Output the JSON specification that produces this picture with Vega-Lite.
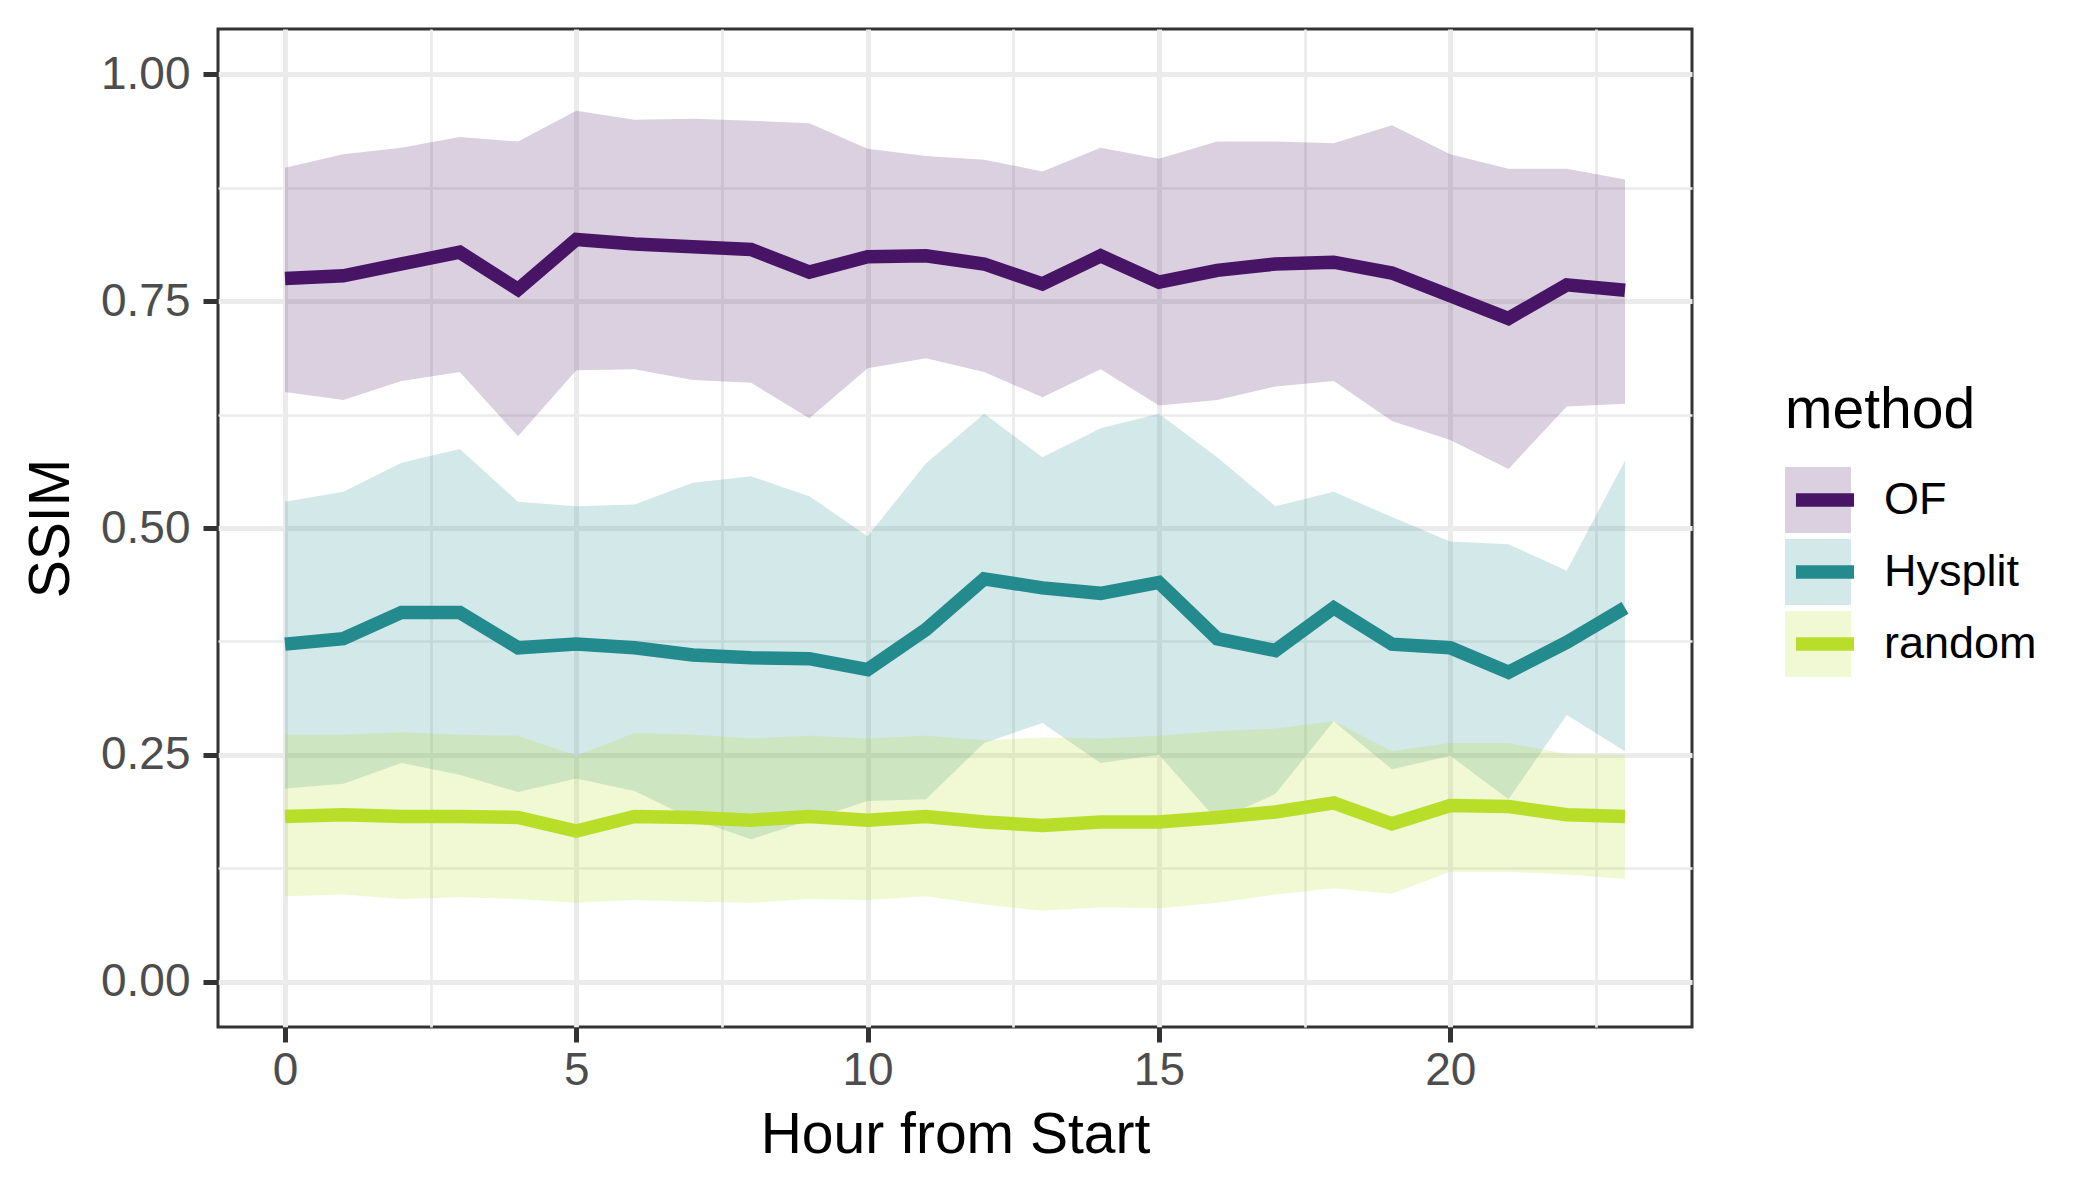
{
  "$schema": "https://vega.github.io/schema/vega-lite/v6.json",
  "width": 1474,
  "height": 998,
  "autosize": {"type": "none"},
  "padding": {"left": 218, "top": 29, "right": 408, "bottom": 173},
  "background": "white",
  "config": {
    "font": "Liberation Sans",
    "view": {"stroke": "#333333", "strokeWidth": 3},
    "axis": {
      "domain": false,
      "gridColor": "#EBEBEB",
      "tickColor": "#333333",
      "tickWidth": 5,
      "tickSize": 15,
      "labelColor": "#4D4D4D",
      "labelFontSize": 46,
      "labelFont": "Liberation Sans",
      "titleFont": "Liberation Sans",
      "titleFontSize": 57,
      "titleFontWeight": "normal",
      "titleColor": "black",
      "labelOverlap": false,
      "labelFlush": false
    }
  },
  "data": {
    "values": [
      {"hour": 0, "method": "OF", "mean": 0.775, "lo": 0.650, "hi": 0.897},
      {"hour": 1, "method": "OF", "mean": 0.778, "lo": 0.641, "hi": 0.912},
      {"hour": 2, "method": "OF", "mean": 0.791, "lo": 0.662, "hi": 0.919},
      {"hour": 3, "method": "OF", "mean": 0.804, "lo": 0.672, "hi": 0.931},
      {"hour": 4, "method": "OF", "mean": 0.763, "lo": 0.601, "hi": 0.926},
      {"hour": 5, "method": "OF", "mean": 0.818, "lo": 0.674, "hi": 0.960},
      {"hour": 6, "method": "OF", "mean": 0.813, "lo": 0.675, "hi": 0.950},
      {"hour": 7, "method": "OF", "mean": 0.810, "lo": 0.663, "hi": 0.951},
      {"hour": 8, "method": "OF", "mean": 0.807, "lo": 0.660, "hi": 0.949},
      {"hour": 9, "method": "OF", "mean": 0.782, "lo": 0.621, "hi": 0.946},
      {"hour": 10, "method": "OF", "mean": 0.799, "lo": 0.676, "hi": 0.918},
      {"hour": 11, "method": "OF", "mean": 0.800, "lo": 0.687, "hi": 0.910},
      {"hour": 12, "method": "OF", "mean": 0.791, "lo": 0.672, "hi": 0.906},
      {"hour": 13, "method": "OF", "mean": 0.769, "lo": 0.644, "hi": 0.893},
      {"hour": 14, "method": "OF", "mean": 0.800, "lo": 0.675, "hi": 0.919},
      {"hour": 15, "method": "OF", "mean": 0.771, "lo": 0.635, "hi": 0.907},
      {"hour": 16, "method": "OF", "mean": 0.784, "lo": 0.641, "hi": 0.926},
      {"hour": 17, "method": "OF", "mean": 0.791, "lo": 0.656, "hi": 0.926},
      {"hour": 18, "method": "OF", "mean": 0.793, "lo": 0.662, "hi": 0.924},
      {"hour": 19, "method": "OF", "mean": 0.781, "lo": 0.618, "hi": 0.944},
      {"hour": 20, "method": "OF", "mean": 0.756, "lo": 0.597, "hi": 0.912},
      {"hour": 21, "method": "OF", "mean": 0.731, "lo": 0.565, "hi": 0.896},
      {"hour": 22, "method": "OF", "mean": 0.768, "lo": 0.634, "hi": 0.896},
      {"hour": 23, "method": "OF", "mean": 0.762, "lo": 0.637, "hi": 0.884},
      {"hour": 0, "method": "Hysplit", "mean": 0.372, "lo": 0.213, "hi": 0.529},
      {"hour": 1, "method": "Hysplit", "mean": 0.378, "lo": 0.218, "hi": 0.540},
      {"hour": 2, "method": "Hysplit", "mean": 0.407, "lo": 0.241, "hi": 0.572},
      {"hour": 3, "method": "Hysplit", "mean": 0.407, "lo": 0.228, "hi": 0.587},
      {"hour": 4, "method": "Hysplit", "mean": 0.368, "lo": 0.209, "hi": 0.529},
      {"hour": 5, "method": "Hysplit", "mean": 0.372, "lo": 0.224, "hi": 0.524},
      {"hour": 6, "method": "Hysplit", "mean": 0.368, "lo": 0.210, "hi": 0.526},
      {"hour": 7, "method": "Hysplit", "mean": 0.360, "lo": 0.179, "hi": 0.550},
      {"hour": 8, "method": "Hysplit", "mean": 0.357, "lo": 0.157, "hi": 0.557},
      {"hour": 9, "method": "Hysplit", "mean": 0.356, "lo": 0.178, "hi": 0.535},
      {"hour": 10, "method": "Hysplit", "mean": 0.344, "lo": 0.199, "hi": 0.491},
      {"hour": 11, "method": "Hysplit", "mean": 0.388, "lo": 0.201, "hi": 0.571},
      {"hour": 12, "method": "Hysplit", "mean": 0.444, "lo": 0.263, "hi": 0.626},
      {"hour": 13, "method": "Hysplit", "mean": 0.434, "lo": 0.285, "hi": 0.578},
      {"hour": 14, "method": "Hysplit", "mean": 0.428, "lo": 0.241, "hi": 0.610},
      {"hour": 15, "method": "Hysplit", "mean": 0.440, "lo": 0.250, "hi": 0.626},
      {"hour": 16, "method": "Hysplit", "mean": 0.378, "lo": 0.178, "hi": 0.578},
      {"hour": 17, "method": "Hysplit", "mean": 0.365, "lo": 0.207, "hi": 0.524},
      {"hour": 18, "method": "Hysplit", "mean": 0.412, "lo": 0.287, "hi": 0.540},
      {"hour": 19, "method": "Hysplit", "mean": 0.372, "lo": 0.234, "hi": 0.512},
      {"hour": 20, "method": "Hysplit", "mean": 0.368, "lo": 0.249, "hi": 0.485},
      {"hour": 21, "method": "Hysplit", "mean": 0.341, "lo": 0.201, "hi": 0.482},
      {"hour": 22, "method": "Hysplit", "mean": 0.374, "lo": 0.294, "hi": 0.453},
      {"hour": 23, "method": "Hysplit", "mean": 0.412, "lo": 0.254, "hi": 0.574},
      {"hour": 0, "method": "random", "mean": 0.182, "lo": 0.094, "hi": 0.272},
      {"hour": 1, "method": "random", "mean": 0.184, "lo": 0.096, "hi": 0.272},
      {"hour": 2, "method": "random", "mean": 0.182, "lo": 0.091, "hi": 0.275},
      {"hour": 3, "method": "random", "mean": 0.182, "lo": 0.093, "hi": 0.272},
      {"hour": 4, "method": "random", "mean": 0.181, "lo": 0.091, "hi": 0.271},
      {"hour": 5, "method": "random", "mean": 0.166, "lo": 0.087, "hi": 0.249},
      {"hour": 6, "method": "random", "mean": 0.182, "lo": 0.090, "hi": 0.274},
      {"hour": 7, "method": "random", "mean": 0.181, "lo": 0.088, "hi": 0.272},
      {"hour": 8, "method": "random", "mean": 0.178, "lo": 0.087, "hi": 0.268},
      {"hour": 9, "method": "random", "mean": 0.182, "lo": 0.091, "hi": 0.271},
      {"hour": 10, "method": "random", "mean": 0.178, "lo": 0.090, "hi": 0.268},
      {"hour": 11, "method": "random", "mean": 0.182, "lo": 0.094, "hi": 0.271},
      {"hour": 12, "method": "random", "mean": 0.176, "lo": 0.085, "hi": 0.266},
      {"hour": 13, "method": "random", "mean": 0.172, "lo": 0.078, "hi": 0.269},
      {"hour": 14, "method": "random", "mean": 0.176, "lo": 0.082, "hi": 0.268},
      {"hour": 15, "method": "random", "mean": 0.176, "lo": 0.081, "hi": 0.271},
      {"hour": 16, "method": "random", "mean": 0.181, "lo": 0.087, "hi": 0.276},
      {"hour": 17, "method": "random", "mean": 0.187, "lo": 0.096, "hi": 0.279},
      {"hour": 18, "method": "random", "mean": 0.197, "lo": 0.103, "hi": 0.287},
      {"hour": 19, "method": "random", "mean": 0.174, "lo": 0.097, "hi": 0.254},
      {"hour": 20, "method": "random", "mean": 0.194, "lo": 0.121, "hi": 0.263},
      {"hour": 21, "method": "random", "mean": 0.193, "lo": 0.121, "hi": 0.263},
      {"hour": 22, "method": "random", "mean": 0.184, "lo": 0.118, "hi": 0.251},
      {"hour": 23, "method": "random", "mean": 0.182, "lo": 0.113, "hi": 0.250}
    ]
  },
  "encoding": {
    "x": {
      "field": "hour",
      "type": "quantitative",
      "title": "Hour from Start",
      "scale": {"domain": [-1.15, 24.15], "nice": false, "zero": false},
      "axis": {
        "values": [0, 2.5, 5, 7.5, 10, 12.5, 15, 17.5, 20, 22.5],
        "labelExpr": "datum.value % 5 === 0 ? datum.label : ''",
        "gridWidth": {"condition": {"test": "datum.value % 5 === 0", "value": 5}, "value": 2.7},
        "tickOpacity": {"condition": {"test": "datum.value % 5 === 0", "value": 1}, "value": 0},
        "labelPadding": 6,
        "titlePadding": 14
      }
    }
  },
  "layer": [
    {
      "mark": {"type": "area", "opacity": 0.2},
      "encoding": {
        "y": {
          "field": "lo",
          "type": "quantitative",
          "title": "SSIM",
          "scale": {"domain": [-0.05, 1.05], "nice": false, "zero": false},
          "axis": {
            "values": [0, 0.125, 0.25, 0.375, 0.5, 0.625, 0.75, 0.875, 1],
            "labelExpr": "datum.value * 4 % 1 === 0 ? format(datum.value, '.2f') : ''",
            "gridWidth": {"condition": {"test": "datum.value * 4 % 1 === 0", "value": 5}, "value": 2.7},
            "tickOpacity": {"condition": {"test": "datum.value * 4 % 1 === 0", "value": 1}, "value": 0},
            "labelPadding": 13,
            "titlePadding": 20
          }
        },
        "y2": {"field": "hi"},
        "fill": {
          "field": "method",
          "type": "nominal",
          "scale": {"domain": ["OF", "Hysplit", "random"], "range": ["#481466", "#238A8D", "#B8DE29"]},
          "legend": {
            "title": "method",
            "orient": "none",
            "legendX": 1567,
            "legendY": 354,
            "padding": 0,
            "zindex": 1,
            "titleFontSize": 57,
            "titleFontWeight": "normal",
            "titleColor": "black",
            "titleFont": "Liberation Sans",
            "titlePadding": 27,
            "titleLimit": 600,
            "labelFontSize": 45,
            "labelColor": "black",
            "labelFont": "Liberation Sans",
            "labelOffset": 33,
            "labelLimit": 600,
            "symbolType": "square",
            "symbolSize": 4356,
            "symbolOpacity": 0.2,
            "symbolStrokeWidth": 0,
            "clipHeight": 66,
            "rowPadding": 6
          }
        }
      }
    },
    {
      "mark": {"type": "line", "strokeWidth": 13.5, "strokeJoin": "miter"},
      "encoding": {
        "y": {
          "field": "mean",
          "type": "quantitative",
          "title": "SSIM",
          "axis": {
            "values": [0, 0.125, 0.25, 0.375, 0.5, 0.625, 0.75, 0.875, 1],
            "labelExpr": "datum.value * 4 % 1 === 0 ? format(datum.value, '.2f') : ''",
            "gridWidth": {"condition": {"test": "datum.value * 4 % 1 === 0", "value": 5}, "value": 2.7},
            "tickOpacity": {"condition": {"test": "datum.value * 4 % 1 === 0", "value": 1}, "value": 0},
            "labelPadding": 13,
            "titlePadding": 20
          }
        },
        "stroke": {
          "field": "method",
          "type": "nominal",
          "sort": ["OF", "Hysplit", "random"],
          "scale": {"range": ["#481466", "#238A8D", "#B8DE29"]},
          "legend": {
            "title": "method",
            "orient": "none",
            "legendX": 1567,
            "legendY": 354,
            "padding": 0,
            "zindex": 2,
            "titleFontSize": 57,
            "titleFontWeight": "normal",
            "titleOpacity": 0,
            "titleFont": "Liberation Sans",
            "titlePadding": 27,
            "titleLimit": 600,
            "labelFontSize": 45,
            "labelExpr": "''",
            "labelFont": "Liberation Sans",
            "labelOffset": 33,
            "symbolType": "M-0.88,0L0.88,0",
            "symbolSize": 4356,
            "symbolStrokeWidth": 13.5,
            "symbolOpacity": 1,
            "clipHeight": 66,
            "rowPadding": 6
          }
        }
      }
    }
  ]
}
